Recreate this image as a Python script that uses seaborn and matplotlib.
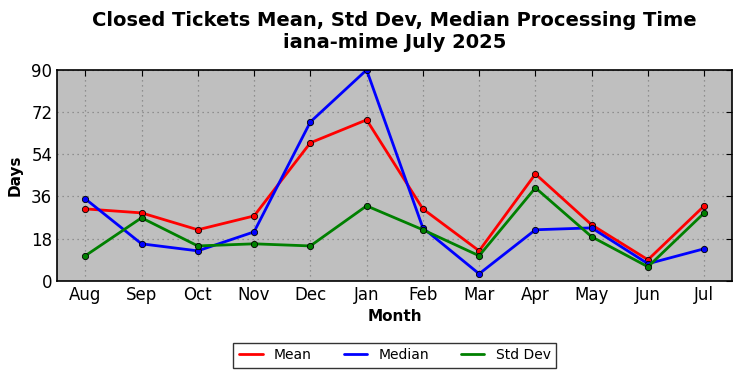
import matplotlib
matplotlib.use("Agg")
import matplotlib.pyplot as plt
import pandas as pd
import seaborn as sns

months = ["Aug", "Sep", "Oct", "Nov", "Dec", "Jan", "Feb", "Mar", "Apr", "May", "Jun", "Jul"]
mean_days = [30.7, 29.0, 21.8, 27.7, 58.9, 68.7, 30.7, 12.8, 45.6, 23.9, 9.0, 32.0]
median_days = [35.0, 15.8, 12.8, 20.9, 67.8, 90.0, 22.6, 3.0, 21.8, 22.6, 7.3, 13.7]
std_days = [10.7, 26.9, 14.9, 15.8, 14.9, 32.0, 21.8, 10.7, 39.7, 18.8, 6.0, 29.0]
yticks = [0, 18, 36, 54, 72, 90]

# long-form table for seaborn
df = pd.concat([
    pd.DataFrame({"Month": months, "Days": mean_days, "Stat": "Mean"}),
    pd.DataFrame({"Month": months, "Days": median_days, "Stat": "Median"}),
    pd.DataFrame({"Month": months, "Days": std_days, "Stat": "Std Dev"}),
])
df["pos"] = df["Month"].map({m: i for i, m in enumerate(months)})

sns.set_style("white")
plt.rcParams["font.family"] = ["DejaVu Sans"]
plt.rcParams["text.color"] = "black"
plt.rcParams["axes.labelcolor"] = "black"
plt.rcParams["xtick.color"] = "black"
plt.rcParams["ytick.color"] = "black"

fig, ax = plt.subplots(figsize=(7.42, 3.78), dpi=100)
fig.subplots_adjust(left=0.077, right=0.987, top=0.815, bottom=0.257)

sns.lineplot(data=df, x="pos", y="Days", hue="Stat",
             hue_order=["Mean", "Median", "Std Dev"],
             palette={"Mean": "red", "Median": "blue", "Std Dev": "green"},
             marker="o", markersize=4.5, markeredgecolor="black", markeredgewidth=0.6,
             linewidth=2, ax=ax)

ax.set_facecolor("#bfbfbf")
ax.set_xlim(-0.5, len(months) - 0.5)
ax.set_ylim(0, 90)
ax.set_xticks(range(len(months)))
ax.set_xticklabels(months)
ax.set_yticks(yticks)
ax.tick_params(axis="both", labelsize=12, direction="in", top=True, right=True, length=4)
ax.grid(True, color="#808080", linestyle=(0, (1, 3)), linewidth=0.9)
for s in ax.spines.values():
    s.set_color("black")
    s.set_linewidth(1.2)

ax.set_xlabel("Month", fontsize=11, fontweight="bold")
ax.set_ylabel("Days", fontsize=11, fontweight="bold", labelpad=6)
ax.set_title("Closed Tickets Mean, Std Dev, Median Processing Time\niana-mime July 2025",
             fontsize=14, fontweight="bold", pad=16)

handles, labels = ax.get_legend_handles_labels()
for h in handles:
    h.set_marker("")
ax.legend(handles, labels, loc="upper center", bbox_to_anchor=(0.5, -0.26), ncol=3,
          frameon=True, fancybox=False, edgecolor="black", fontsize=10,
          handlelength=1.7, columnspacing=2.3, borderpad=0.4)

fig.savefig("out.png", dpi=100)
